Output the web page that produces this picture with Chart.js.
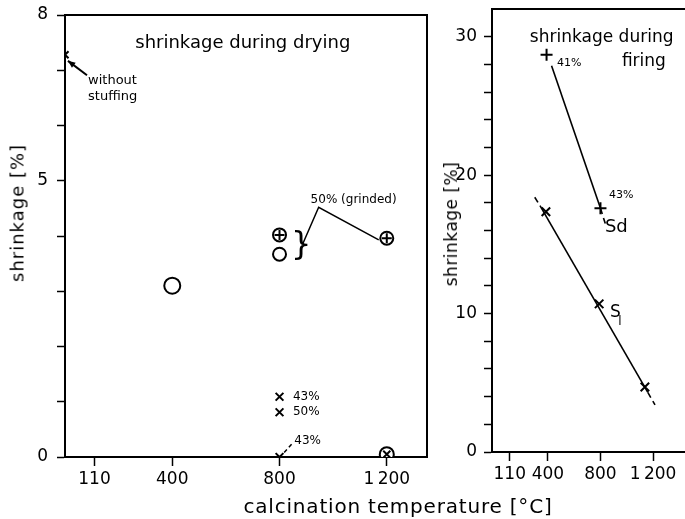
<!DOCTYPE html>
<html>
<head>
<meta charset="utf-8">
<script src="https://cdn.jsdelivr.net/npm/chart.js@4.4.1/dist/chart.umd.min.js"></script>
<style>
    html, body { margin: 0; padding: 0; background: #fff; overflow: hidden; }
    body { width: 685px; height: 519px; position: relative; font-family: 'DejaVu Sans', sans-serif; color: #000; }
    .painel { position: absolute; top: 0; height: 519px; }
    #painelSecagem { left: 0; width: 430px; }
    #painelQueima { left: 430px; width: 255px; }
    .titulo { position: absolute; white-space: nowrap; transform: translate(-50%, -50%); }
    .titulo-y { transform: translate(-50%, -50%) rotate(-90deg); }
</style>
</head>
<body>
<div class="painel" id="painelSecagem"><canvas id="graficoSecagem"></canvas></div>
<div class="painel" id="painelQueima"><canvas id="graficoQueima"></canvas></div>
<div class="titulo titulo-y" style="left:17px; top:213px; font-size:18px; letter-spacing:1px;">shrinkage [%]</div>
<div class="titulo titulo-y" style="left:451px; top:224px; font-size:17px; letter-spacing:0.5px;">shrinkage [%]</div>
<div class="titulo" style="left:398px; top:506px; font-size:20px; letter-spacing:0.8px;">calcination temperature [°C]</div>

<script>
// Dados (temperatura em °C, retração em %)
const temperaturasEixo = [110, 400, 800, 1200];
const rotulosSecagemY = [0, 5, 8];
const rotulosQueimaY = [0, 10, 20, 30];

// Retração durante a secagem
const semRecheioX = [0];
const semRecheioY = [7.28];
const circuloX = [400, 800];
const circuloY = [3.1, 3.67];
const circuloRaio = [8, 6.5];
const moidoX = [800, 1200];          // 50% (grinded)
const moidoY = [4.02, 3.96];
const cruzX = [800, 800, 800];       // 43%, 50%, 43%
const cruzY = [1.09, 0.81, 0.0];
const circuloXisX = [1200];
const circuloXisY = [0.05];

// Retração durante a queima
const sdX = [390, 800];
const sdY = [28.7, 17.6];
const sdLinhaX = [428, 800, 840];
const sdLinhaY = [27.9, 17.6, 16.4];
const slX = [385, 790, 1138];
const slY = [17.35, 10.7, 4.7];
const slLinhaX = [300, 340, 1160, 1215];
const slLinhaY = [18.4, 17.8, 4.3, 3.4];

const FONTE = "'DejaVu Sans', sans-serif";
const COR = '#000';

function pontos(xs, ys) {
    return xs.map((x, i) => ({ x: x, y: ys[i] }));
}

function rotuloTemperatura(v) {
    return v === 1200 ? '1\u2009200' : String(v);
}

// Plugin para moldura e anotações de texto/linhas em coordenadas de dados
const anotacoesPlugin = {
    id: 'anotacoes',
    afterDatasetsDraw(chart, args, opts) {
        const { ctx, chartArea, scales } = chart;
        const sx = v => scales.x.getPixelForValue(v);
        const sy = v => scales.y.getPixelForValue(v);
        ctx.save();
        ctx.strokeStyle = COR;
        ctx.fillStyle = COR;

        // moldura superior / direita
        ctx.lineWidth = 2;
        ctx.beginPath();
        ctx.moveTo(chartArea.left, chartArea.top);
        ctx.lineTo(chartArea.right, chartArea.top);
        if (opts.bordaDireita) ctx.lineTo(chartArea.right, chartArea.bottom);
        ctx.stroke();

        (opts.linhas || []).forEach(l => {
            ctx.lineWidth = l.largura || 1.5;
            ctx.setLineDash(l.tracejado ? [4, 3] : []);
            ctx.beginPath();
            l.xs.forEach((x, i) => {
                if (i === 0) ctx.moveTo(sx(x), sy(l.ys[i]));
                else ctx.lineTo(sx(x), sy(l.ys[i]));
            });
            ctx.stroke();
            if (l.seta) {
                const n = l.xs.length;
                const x1 = sx(l.xs[n - 2]), y1 = sy(l.ys[n - 2]);
                const x2 = sx(l.xs[n - 1]), y2 = sy(l.ys[n - 1]);
                const ang = Math.atan2(y2 - y1, x2 - x1);
                ctx.setLineDash([]);
                ctx.beginPath();
                ctx.moveTo(x2, y2);
                ctx.lineTo(x2 - 8 * Math.cos(ang - 0.4), y2 - 8 * Math.sin(ang - 0.4));
                ctx.lineTo(x2 - 8 * Math.cos(ang + 0.4), y2 - 8 * Math.sin(ang + 0.4));
                ctx.closePath();
                ctx.fill();
            }
        });
        ctx.setLineDash([]);

        (opts.textos || []).forEach(t => {
            ctx.font = `${t.tamanho}px ${FONTE}`;
            ctx.textAlign = t.alinhar || 'left';
            ctx.textBaseline = 'middle';
            ctx.fillText(t.texto, sx(t.x), sy(t.y));
        });
        ctx.restore();
    }
};

function datasetPontos(xs, ys, estilo, raio, ordem) {
    return {
        data: pontos(xs, ys),
        pointStyle: estilo,
        pointRadius: raio,
        pointBorderColor: COR,
        pointBackgroundColor: '#fff',
        pointBorderWidth: 2,
        showLine: false,
        order: ordem
    };
}

function datasetLinha(xs, ys, tracejados) {
    return {
        type: 'line',
        data: pontos(xs, ys),
        borderColor: COR,
        borderWidth: 1.6,
        pointRadius: 0,
        showLine: true,
        fill: false,
        order: 5,
        segment: {
            borderDash: ctx => tracejados.includes(ctx.p0DataIndex) ? [6, 4] : undefined
        }
    };
}

function eixoX(min, max, altura) {
    return {
        type: 'linear',
        min: min,
        max: max,
        afterBuildTicks: s => { s.ticks = temperaturasEixo.map(v => ({ value: v })); },
        afterFit: s => { s.height = altura; s.paddingLeft = 0; s.paddingRight = 0; },
        grid: { drawOnChartArea: false, tickLength: 9, tickColor: COR, tickWidth: 1.5 },
        border: { color: COR, width: 2 },
        ticks: {
            color: COR, font: { family: FONTE, size: 17 }, padding: 3,
            maxRotation: 0, autoSkip: false,
            callback: v => rotuloTemperatura(v)
        }
    };
}

function eixoY(max, passo, largura, rotulos, padding) {
    return {
        min: 0,
        max: max,
        afterBuildTicks: s => { s.ticks = s.ticks.filter(t => t.value <= rotulos[rotulos.length - 1]); },
        afterFit: s => { s.width = largura; s.paddingTop = 0; s.paddingBottom = 0; },
        grid: { drawOnChartArea: false, tickLength: 8, tickColor: COR, tickWidth: 1.5 },
        border: { color: COR, width: 2 },
        ticks: {
            stepSize: passo, color: COR, font: { family: FONTE, size: 17 }, padding: padding,
            autoSkip: false,
            callback: v => rotulos.includes(v) ? String(v) : ''
        }
    };
}

function opcoesBase(padding, escalas, anotacoes) {
    return {
        responsive: true,
        maintainAspectRatio: false,
        animation: false,
        layout: { padding: padding, autoPadding: false },
        scales: escalas,
        plugins: {
            legend: { display: false },
            tooltip: { enabled: false },
            anotacoes: anotacoes
        }
    };
}

function criarGraficoSecagem(canvasId) {
    const ctx = document.getElementById(canvasId);
    if (!ctx) return null;

    return new Chart(ctx, {
        type: 'scatter',
        data: {
            datasets: [
                datasetPontos(semRecheioX, semRecheioY, 'crossRot', 5, 0),
                datasetPontos(circuloX, circuloY, 'circle', circuloRaio, 1),
                datasetPontos(moidoX, moidoY, 'cross', 5, 0),
                datasetPontos(moidoX, moidoY, 'circle', 6.5, 1),
                datasetPontos(cruzX, cruzY, 'crossRot', 5.5, 0),
                datasetPontos(circuloXisX, circuloXisY, 'crossRot', 5, 0),
                datasetPontos(circuloXisX, circuloXisY, 'circle', 7, 1)
            ]
        },
        plugins: [anotacoesPlugin],
        options: opcoesBase(
            { top: 15, right: 3, left: 0, bottom: 0 },
            { x: eixoX(0, 1350, 62), y: eixoY(8, 1, 65, rotulosSecagemY, 9) },
            {
                bordaDireita: true,
                textos: [
                    { texto: 'shrinkage during drying', x: 262, y: 7.49, tamanho: 18 },
                    { texto: 'without', x: 86, y: 6.82, tamanho: 13 },
                    { texto: 'stuffing', x: 86, y: 6.52, tamanho: 13 },
                    { texto: '50% (grinded)', x: 916, y: 4.65, tamanho: 12 },
                    { texto: '}', x: 843, y: 3.82, tamanho: 32 },
                    { texto: '43%', x: 850, y: 1.09, tamanho: 12 },
                    { texto: '50%', x: 850, y: 0.81, tamanho: 12 },
                    { texto: '43%', x: 855, y: 0.3, tamanho: 12 }
                ],
                linhas: [
                    { xs: [82, 11], ys: [6.91, 7.17], seta: true, largura: 2 },
                    { xs: [886, 946, 1170], ys: [3.85, 4.52, 3.93] },
                    { xs: [845, 815], ys: [0.23, 0.07], tracejado: true }
                ]
            }
        )
    });
}

function criarGraficoQueima(canvasId) {
    const ctx = document.getElementById(canvasId);
    if (!ctx) return null;

    return new Chart(ctx, {
        type: 'scatter',
        data: {
            datasets: [
                datasetPontos(sdX, sdY, 'cross', 6, 0),
                datasetPontos(slX, slY, 'crossRot', 6, 0),
                datasetLinha(sdLinhaX, sdLinhaY, [1]),
                datasetLinha(slLinhaX, slLinhaY, [0, 2])
            ]
        },
        plugins: [anotacoesPlugin],
        options: opcoesBase(
            { top: 9, right: 0, left: 0, bottom: 0 },
            { x: eixoX(-25, 1443, 67), y: eixoY(32, 2, 62, rotulosQueimaY, 7) },
            {
                bordaDireita: false,
                textos: [
                    { texto: 'shrinkage during', x: 263, y: 29.9, tamanho: 17 },
                    { texto: 'firing', x: 963, y: 28.2, tamanho: 17 },
                    { texto: '41%', x: 469, y: 28.1, tamanho: 11 },
                    { texto: '43%', x: 865, y: 18.55, tamanho: 11 },
                    { texto: 'Sd', x: 834, y: 16.2, tamanho: 18 },
                    { texto: 'S', x: 872, y: 10.04, tamanho: 17 },
                    { texto: 'l', x: 935, y: 9.4, tamanho: 12 }
                ]
            }
        )
    });
}

criarGraficoSecagem('graficoSecagem');
criarGraficoQueima('graficoQueima');
</script>
</body>
</html>
